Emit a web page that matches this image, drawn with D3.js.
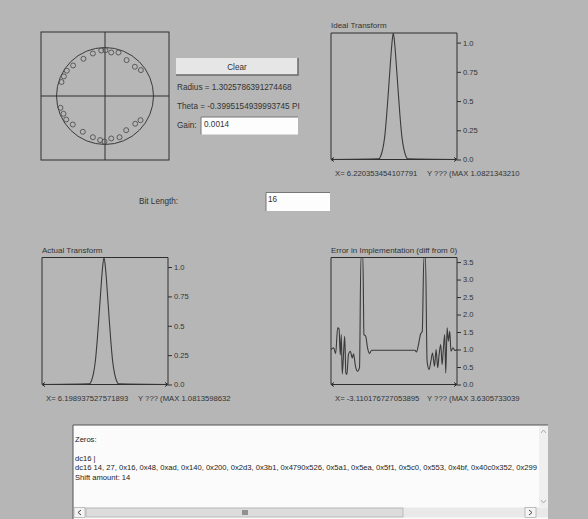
<!DOCTYPE html>
<html>
<head>
<meta charset="utf-8">
<script src="https://cdn.jsdelivr.net/npm/d3@7"></script>
<style>
  body { margin: 0; background: #b6b6b6; }
  svg { display: block; font-family: "Liberation Sans", Arial, sans-serif; }
</style>
</head>
<body>
<svg id="chart" width="588" height="519"></svg>
<script>
// zeros of the filter (unit circle coordinates)
const zeroRe = [-0.078, 0.010, 0.128, 0.278, -0.250, -0.445, 0.445, -0.658, 0.616, 0.740, -0.788, -0.849, -0.897,
                -0.100, -0.010, 0.128, 0.300, -0.250, -0.458, -0.664, -0.800, -0.856, -0.918, 0.437, 0.623, 0.732];
const zeroIm = [0.938, 0.944, 0.897, 0.897, 0.876, 0.767, 0.740, 0.630, 0.603, 0.534, 0.521, 0.404, 0.288,
                -0.910, -0.940, -0.876, -0.850, -0.850, -0.738, -0.588, -0.485, -0.367, -0.243, -0.705, -0.573, -0.499];

// ideal transform (frequency in rad, magnitude)
const idealW = [-3.14, -0.76, -0.66, -0.56, -0.46, -0.37, -0.28, -0.19, -0.11, -0.035, 0.04, 0.12, 0.21, 0.30, 0.39, 0.49, 0.59, 0.69, 3.14];
const idealV = [0, 0.005, 0.03, 0.09, 0.20, 0.37, 0.58, 0.80, 0.98, 1.082, 0.98, 0.80, 0.58, 0.37, 0.20, 0.09, 0.03, 0.005, 0];

// actual transform
const actualW = [-3.14, -0.78, -0.68, -0.58, -0.48, -0.39, -0.30, -0.21, -0.13, -0.05, 0.03, 0.11, 0.20, 0.29, 0.38, 0.48, 0.58, 0.68, 3.14];
const actualV = [0, 0.005, 0.03, 0.09, 0.20, 0.37, 0.58, 0.80, 0.98, 1.081, 0.98, 0.80, 0.58, 0.37, 0.20, 0.09, 0.03, 0.005, 0];

// error in implementation
const errW = [-3.14, -3.01, -2.91, -2.81, -2.74, -2.68, -2.63, -2.58, -2.51, -2.46, -2.40, -2.35, -2.27, -2.18, -2.08, -2.02,
              -1.92, -1.82, -1.72, -1.65, -1.55, -1.50, -1.41, -1.32, -1.22, -1.11, -0.60, 0, 0.60, 1.04, 1.12, 1.22, 1.32,
              1.41, 1.49, 1.57, 1.65, 1.75, 1.84, 1.92, 2.02, 2.10, 2.18, 2.25, 2.33, 2.40, 2.46, 2.53, 2.58, 2.65, 2.71,
              2.78, 2.84, 2.94, 3.04, 3.14];
const errV = [1.00, 1.05, 0.88, 1.62, 1.59, 0.84, 1.43, 0.30, 0.95, 1.38, 0.33, 0.29, 0.86, 0.95, 0.76, 0.88,
              0.52, 0.38, 0.48, 3.63, 3.63, 1.43, 1.38, 1.05, 0.89, 0.98, 0.98, 0.98, 0.98, 0.98, 0.93, 1.14, 1.43,
              1.52, 3.63, 3.63, 0.67, 0.43, 0.67, 0.90, 0.52, 1.00, 0.48, 0.86, 1.14, 0.57, 1.00, 1.43, 0.33, 1.62, 1.24,
              1.52, 0.95, 1.05, 0.97, 1.00];

const transformTicks = [0, 0.25, 0.5, 0.75, 1.0];
const errorTicks = [0, 0.5, 1.0, 1.5, 2.0, 2.5, 3.0, 3.5];

const textLines = [
  'Zeros:',
  '',
  'dc16 |',
  'dc16 14, 27, 0x16, 0x48, 0xad, 0x140, 0x200, 0x2d3, 0x3b1, 0x4790x526, 0x5a1, 0x5ea, 0x5f1, 0x5c0, 0x553, 0x4bf, 0x40c0x352, 0x299',
  'Shift amount: 14'
];

const ink = '#2e2e2e';
const svg = d3.select('#chart');

svg.append('rect').attr('width', 588).attr('height', 519).attr('fill', '#b6b6b6');

// ---- pole / zero plot ----
const pz = {left: 41, right: 169, top: 32, bottom: 160};
const px = d3.scaleLinear().domain([-1.32, 1.32]).range([pz.left, pz.right]);
const py = d3.scaleLinear().domain([-1.32, 1.32]).range([pz.bottom, pz.top]);
const pzg = svg.append('g');
pzg.append('rect')
  .attr('x', pz.left).attr('y', pz.top)
  .attr('width', pz.right - pz.left).attr('height', pz.bottom - pz.top)
  .attr('fill', 'none').attr('stroke', ink);
pzg.append('line').attr('x1', px(0)).attr('x2', px(0)).attr('y1', pz.top).attr('y2', pz.bottom).attr('stroke', ink);
pzg.append('line').attr('y1', py(0)).attr('y2', py(0)).attr('x1', pz.left).attr('x2', pz.right).attr('stroke', ink);
pzg.append('circle')
  .attr('cx', px(0)).attr('cy', py(0))
  .attr('r', px(1) - px(0))
  .attr('fill', 'none').attr('stroke', '#3a3a3a');
pzg.selectAll('.zero')
  .data(d3.range(zeroRe.length))
  .join('circle')
  .attr('class', 'zero')
  .attr('cx', i => px(zeroRe[i]))
  .attr('cy', i => py(zeroIm[i]))
  .attr('r', 2.5)
  .attr('fill', 'none')
  .attr('stroke', '#505050')
  .attr('stroke-width', 0.9);

// ---- controls ----
const ctl = svg.append('g').attr('font-size', 8.2).attr('fill', '#333');
ctl.append('rect').attr('x', 176).attr('y', 58).attr('width', 122).attr('height', 17).attr('fill', '#e6e6e6');
ctl.append('path').attr('d', 'M176,75H298V58').attr('fill', 'none').attr('stroke', '#6a6a6a').attr('stroke-width', 1.5);
ctl.append('text').attr('x', 237).attr('y', 69.5).attr('text-anchor', 'middle').text('Clear');
ctl.append('text').attr('x', 177).attr('y', 89.5).text('Radius = 1.3025786391274468');
ctl.append('text').attr('x', 177).attr('y', 108.5).text('Theta = -0.3995154939993745 PI');
ctl.append('text').attr('x', 177).attr('y', 128).text('Gain:');
ctl.append('rect').attr('x', 201).attr('y', 117).attr('width', 97).attr('height', 17.5).attr('fill', '#fdfdfd');
ctl.append('path').attr('d', 'M201,134.5V117H298').attr('fill', 'none').attr('stroke', '#777');
ctl.append('text').attr('x', 204).attr('y', 127).text('0.0014');

ctl.append('text').attr('x', 139).attr('y', 203.5).text('Bit Length:');
ctl.append('rect').attr('x', 266).attr('y', 192.5).attr('width', 64).attr('height', 18.5).attr('fill', '#fdfdfd');
ctl.append('path').attr('d', 'M266,211V192.5H330').attr('fill', 'none').attr('stroke', '#777');
ctl.append('text').attr('x', 268).attr('y', 202).text('16');

// ---- transform plots ----
function plot(box, xs, ys, maxV, ticks, title, xText, yText, id) {
  const g = svg.append('g');
  const x = d3.scaleLinear().domain([-Math.PI, Math.PI]).range([box.left, box.right]);
  const y = d3.scaleLinear().domain([0, maxV]).range([box.bottom, box.top]);

  g.append('clipPath').attr('id', id)
    .append('rect').attr('x', box.left).attr('y', box.top)
    .attr('width', box.right - box.left).attr('height', box.bottom - box.top);

  g.append('path')
    .attr('d', `M${box.left},${box.bottom}V${box.top}H${box.right}V${box.bottom}`)
    .attr('fill', 'none').attr('stroke', ink);

  // zero axis with arrows
  g.append('line')
    .attr('x1', box.left).attr('x2', box.right)
    .attr('y1', y(0)).attr('y2', y(0)).attr('stroke', ink);
  g.append('path')
    .attr('d', `M${box.left + 3},${y(0) - 2}L${box.left},${y(0)}L${box.left + 3},${y(0) + 2}` +
               `M${box.right - 3},${y(0) - 2}L${box.right},${y(0)}L${box.right - 3},${y(0) + 2}`)
    .attr('fill', 'none').attr('stroke', ink);

  const axis = d3.axisRight(y)
    .tickValues(ticks)
    .tickSize(4)
    .tickPadding(2)
    .tickFormat(d => Number.isInteger(d) ? d.toFixed(1) : String(d));
  const ag = g.append('g').attr('transform', `translate(${box.right},0)`).call(axis);
  ag.select('.domain').remove();
  ag.selectAll('line').attr('stroke', ink);
  ag.selectAll('text').attr('fill', '#333').attr('font-size', 7.6).attr('font-family', 'Liberation Sans, Arial, sans-serif');

  const line = d3.line()
    .x((d, i) => x(xs[i]))
    .y(d => y(d))
    .curve(d3.curveMonotoneX);
  g.append('path')
    .datum(ys)
    .attr('clip-path', `url(#${id})`)
    .attr('fill', 'none')
    .attr('stroke', '#3a3a3a')
    .attr('stroke-width', 1.1)
    .attr('d', line);

  g.append('text').attr('x', box.left).attr('y', box.top - 5)
    .attr('font-size', 8).attr('fill', '#333').text(title);
  g.append('text').attr('x', box.left + 4).attr('y', box.bottom + 16)
    .attr('font-size', 7.7).attr('fill', '#333').text(xText);
  g.append('text').attr('x', box.left + 96).attr('y', box.bottom + 16)
    .attr('font-size', 7.7).attr('fill', '#333').text(yText);
}

plot({left: 331, right: 457, top: 33, bottom: 159.5}, idealW, idealV, 1.0821343210, transformTicks,
  'Ideal Transform', 'X= 6.220353454107791', 'Y ??? (MAX 1.0821343210', 'clipIdeal');
plot({left: 42, right: 168, top: 257.5, bottom: 384.5}, actualW, actualV, 1.0813598632, transformTicks,
  'Actual Transform', 'X= 6.198937527571893', 'Y ??? (MAX 1.0813598632', 'clipActual');
plot({left: 331, right: 457, top: 257.5, bottom: 384.5}, errW, errV, 3.6305733039, errorTicks,
  'Error in Implementation (diff from 0)', 'X= -3.110176727053895', 'Y ??? (MAX 3.6305733039', 'clipErr');

// ---- text area ----
const ta = svg.append('g');
ta.append('rect').attr('x', 73).attr('y', 425).attr('width', 475).attr('height', 94).attr('fill', '#fbfbfb');
ta.append('path').attr('d', 'M73,519V425H548').attr('fill', 'none').attr('stroke', '#555');
ta.append('rect').attr('x', 539).attr('y', 426).attr('width', 9).attr('height', 81).attr('fill', '#efefef');
ta.append('path').attr('d', 'M541,433L543.5,430L546,433M541,500L543.5,503L546,500').attr('fill', 'none').attr('stroke', '#aaa');
ta.append('rect').attr('x', 74).attr('y', 507.5).attr('width', 474).attr('height', 10).attr('fill', '#e9e9e9');
ta.append('rect').attr('x', 74).attr('y', 507.5).attr('width', 11).attr('height', 10).attr('fill', '#f4f4f4').attr('stroke', '#999').attr('stroke-width', 0.6);
ta.append('rect').attr('x', 86).attr('y', 508).attr('width', 317).attr('height', 9).attr('fill', '#dcdcdc').attr('stroke', '#a0a0a0').attr('stroke-width', 0.6);
ta.append('rect').attr('x', 525).attr('y', 507.5).attr('width', 11).attr('height', 10).attr('fill', '#f4f4f4').attr('stroke', '#999').attr('stroke-width', 0.6);
ta.append('path').attr('d', 'M81,510L78,512.5L81,515M529,510L532,512.5L529,515M243,510V515M245,510V515M247,510V515')
  .attr('fill', 'none').attr('stroke', '#444');
ta.selectAll('.ln')
  .data(textLines)
  .join('text')
  .attr('class', 'ln')
  .attr('x', 75)
  .attr('y', (d, i) => 442 + i * 9.4)
  .attr('font-size', 7.6)
  .attr('fill', '#222')
  .text(d => d);
</script>
</body>
</html>
